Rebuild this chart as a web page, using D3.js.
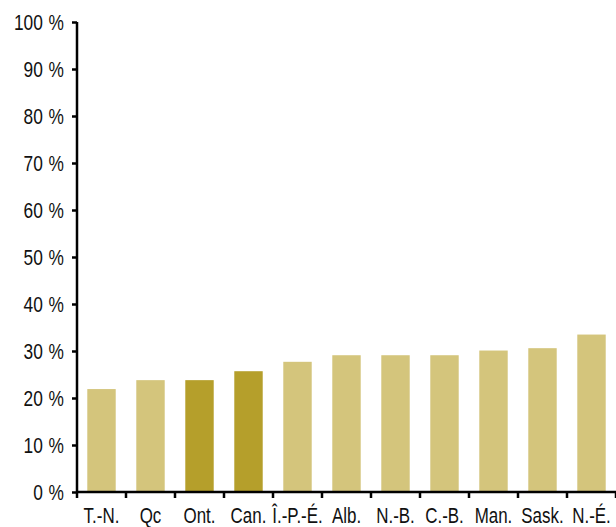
<!DOCTYPE html>
<html>
<head>
<meta charset="utf-8">
<script src="https://cdn.jsdelivr.net/npm/d3@7"></script>
<style>
  body { margin: 0; background: #fff; }
  text { font-family: "Liberation Sans", Arial, sans-serif; fill: #111; }
</style>
</head>
<body>
<div id="chart-area"></div>
<script>
var provinces = ["T.-N.", "Qc", "Ont.", "Can.", "Î.-P.-É.", "Alb.", "N.-B.", "C.-B.", "Man.", "Sask.", "N.-É."];
var shares = [21.9, 23.8, 23.8, 25.7, 27.7, 29.1, 29.1, 29.1, 30.1, 30.6, 33.5];
var highlighted = ["Ont.", "Can."];
var yTicks = [0, 10, 20, 30, 40, 50, 60, 70, 80, 90, 100];

var width = 616, height = 527;
var margin = { top: 22, right: 0, bottom: 35, left: 77 };
var squeeze = 0.77; // condensed look for labels

var svg = d3.select("#chart-area")
  .append("svg")
  .attr("width", width)
  .attr("height", height);

var x = d3.scaleBand()
  .domain(provinces)
  .range([margin.left, width - margin.right])
  .paddingInner(0.42)
  .paddingOuter(0.21);

var y = d3.scaleLinear()
  .domain([0, 100])
  .range([height - margin.bottom, margin.top]);

svg.selectAll("rect")
  .data(provinces)
  .enter()
  .append("rect")
  .attr("x", (d) => x(d))
  .attr("y", (d, i) => y(shares[i]))
  .attr("width", x.bandwidth())
  .attr("height", (d, i) => y(0) - y(shares[i]))
  .attr("fill", (d) => highlighted.includes(d) ? "#b59f2b" : "#d4c57c");

// y axis
var yAxis = svg.append("g")
  .attr("transform", "translate(" + margin.left + ",0)")
  .call(d3.axisLeft(y).tickValues(yTicks).tickSize(5).tickPadding(8)
    .tickFormat((d) => d + "\u2004%"));
yAxis.selectAll("path, line").attr("stroke", "#000").attr("stroke-width", 2.5);
yAxis.select(".domain").attr("d", "M0," + y(100) + "V" + y(0));
yAxis.selectAll("text")
  .style("font-size", "22.5px")
  .attr("fill", "#111")
  .attr("x", -13 / squeeze)
  .attr("transform", "scale(" + squeeze + ",1)");

// x axis: ticks between categories
var boundaries = d3.range(provinces.length + 1).map((i) => margin.left + i * (width - margin.left - margin.right) / provinces.length);
var xg = svg.append("g");
xg.append("line")
  .attr("x1", margin.left - 1).attr("x2", width)
  .attr("y1", y(0)).attr("y2", y(0))
  .attr("stroke", "#000").attr("stroke-width", 2.5);
xg.selectAll(".tk")
  .data(boundaries)
  .enter()
  .append("line")
  .attr("x1", (d) => d).attr("x2", (d) => d)
  .attr("y1", y(0)).attr("y2", y(0) + 6)
  .attr("stroke", "#000").attr("stroke-width", 2.5);
xg.selectAll(".lbl")
  .data(provinces)
  .enter()
  .append("text")
  .attr("transform", (d) => "translate(" + (x(d) + x.bandwidth() / 2) + "," + (y(0) + 31) + ") scale(" + squeeze + ",1)")
  .attr("text-anchor", "middle")
  .style("font-size", "22px")
  .text((d) => d);
</script>
</body>
</html>
